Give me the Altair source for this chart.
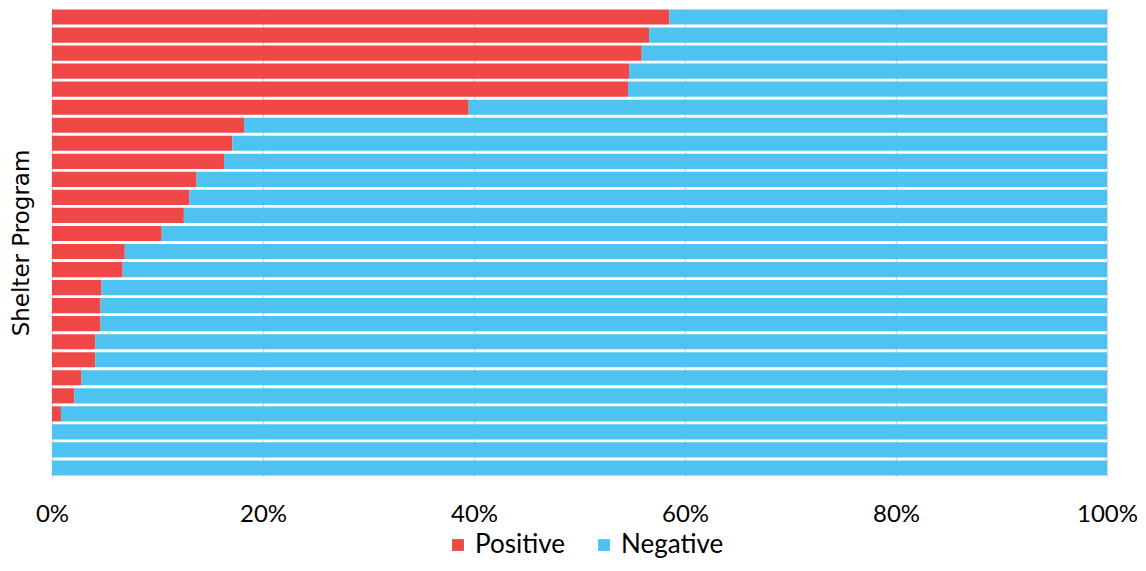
import altair as alt
import pandas as pd

programs = [f"Program {i:02d}" for i in range(1, 27)]
positive = [58.5, 56.6, 55.9, 54.7, 54.6, 39.5, 18.2, 17.1, 16.3, 13.7, 13.0, 12.5, 10.4,
            6.9, 6.7, 4.7, 4.6, 4.6, 4.1, 4.1, 2.8, 2.1, 0.85, 0.0, 0.0, 0.0]
negative = [41.5, 43.4, 44.1, 45.3, 45.4, 60.5, 81.8, 82.9, 83.7, 86.3, 87.0, 87.5, 89.6,
            93.1, 93.3, 95.3, 95.4, 95.4, 95.9, 95.9, 97.2, 97.9, 99.15, 100.0, 100.0, 100.0]
results = ["Positive", "Negative"]
colors = ["#EF4846", "#4EC3F1"]

rows = []
for p, pos, neg in zip(programs, positive, negative):
    rows.append({"program": p, "result": "Positive", "share": pos / 100, "ord": 0})
    rows.append({"program": p, "result": "Negative", "share": neg / 100, "ord": 1})
df = pd.DataFrame(rows)

FONT = "Lato"

chart = alt.Chart(df).mark_bar().encode(
    x=alt.X("share:Q", stack="zero",
            scale=alt.Scale(domain=[0, 1], nice=False),
            axis=alt.Axis(format=".0%", values=[0, 0.2, 0.4, 0.6, 0.8, 1.0],
                          title=None, domain=False, ticks=False,
                          grid=True, gridColor="#D9D9D9", gridWidth=1.5,
                          labelFontSize=24, labelColor="#000000", labelFont=FONT,
                          labelPadding=25, labelFlush=False)),
    y=alt.Y("program:N", sort=programs,
            scale=alt.Scale(paddingInner=0.16, paddingOuter=0.08),
            axis=alt.Axis(title="Shelter Program", labels=False, ticks=False, domain=False,
                          titleFontSize=23, titleFont="DejaVu Sans", titleFontWeight="normal",
                          titleColor="#000000", titlePadding=19)),
    color=alt.Color("result:N", sort=results,
                    scale=alt.Scale(domain=results, range=colors),
                    legend=alt.Legend(title=None, orient="none", direction="horizontal",
                                      legendX=393, legendY=524,
                                      symbolType="square", symbolSize=140,
                                      symbolStrokeWidth=0,
                                      labelFontSize=26, labelFont=FONT, labelColor="#000000",
                                      columnPadding=26, labelOffset=4)),
    order=alt.Order("ord:Q"),
).properties(
    width=1055, height=469,
    padding={"left": 44, "top": 0, "right": 31, "bottom": 86},
    autosize=alt.AutoSizeParams(type="none"),
).configure_view(stroke=None)

chart.save("out.html", embed_options={"renderer": "svg", "actions": False})
